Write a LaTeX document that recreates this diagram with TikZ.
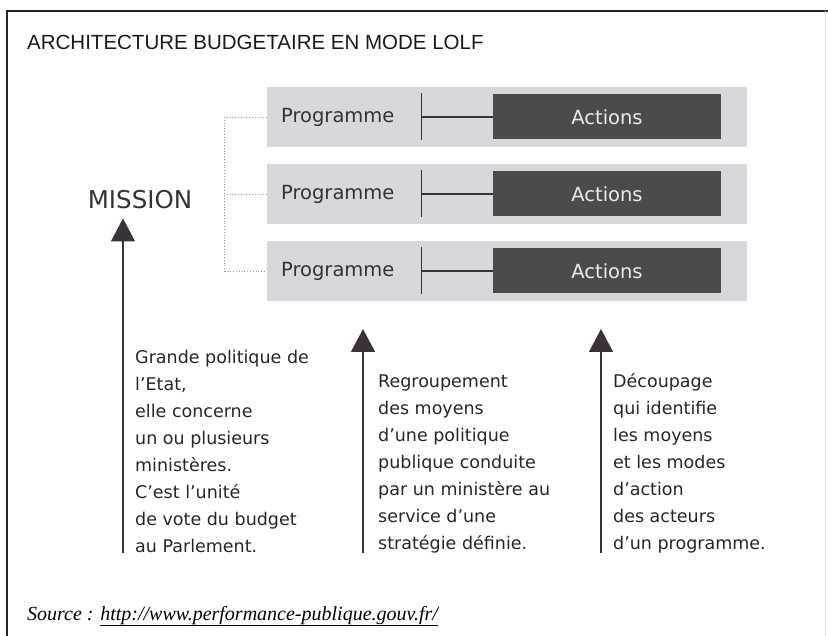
\documentclass[tikz,border=0pt]{standalone}
\usepackage{fontspec}
\setmainfont{Liberation Serif}
\setsansfont{DejaVu Sans}
\newfontfamily\arialfont{Liberation Sans}
\usetikzlibrary{positioning, calc, arrows.meta}

\definecolor{bandgray}{HTML}{D8D8DC}
\definecolor{actgray}{HTML}{4B4B4B}
\definecolor{inkdark}{HTML}{3A3238}

\tikzset{
  band/.style={fill=bandgray, minimum width=480pt, minimum height=60pt, inner sep=0pt},
  actbox/.style={fill=actgray, text=white!92!black, minimum width=228pt, minimum height=45pt,
    inner sep=0pt, font=\sffamily\fontsize{19.5}{22}\selectfont},
  progtxt/.style={text=black!80, inner sep=0pt, font=\sffamily\fontsize{19.5}{22}\selectfont},
  expl/.style={align=left, inner sep=0pt, anchor=south west, text=black!85,
    font=\sffamily\fontsize{17.5}{27}\selectfont},
  uparrow/.style={draw=inkdark, fill=actgray, line width=1.3pt, -{Triangle[width=24pt,length=23pt]}},
  bracket/.style={draw=black!40, dotted, line width=0.8pt},
  tick/.style={draw=inkdark, line width=1.2pt}
}

\begin{document}
\begin{tikzpicture}[x=1pt, y=-1pt, node distance=77pt, on grid]
\useasboundingbox (0,0) rectangle (828,636);
% cadre
\draw[line width=2pt, black!85] (7,636) -- (7,11) -- (828,11);
\draw[black!12] (825,11) -- (825,636);

\node[anchor=base west, inner sep=0pt, text=black!90, font=\arialfont\fontsize{20.5}{24}\selectfont]
  (title) at (27,50) {ARCHITECTURE BUDGETAIRE EN MODE LOLF};

% programmes et actions
\node[band] (band1) at (507,117) {};
\node[band] (band2) [below=of band1] {};
\node[band] (band3) [below=of band2] {};

\foreach \i in {1,2,3} {
  \node[progtxt, anchor=base] (prog\i) at ($(band\i.west)+(71,6)$) {Programme};
  \node[actbox] (act\i) at ($(band\i.center)+(100,0)$) {Actions};
  \coordinate (tick\i) at ($(band\i.west)+(155,0)$);
  \draw[tick] ($(tick\i)+(0,-23.5)$) -- ($(tick\i)+(0,23.5)$);
  \draw[tick] (tick\i) -- (act\i.west);
}

\coordinate (brtop) at ($(band1.west)+(-42,0)$);
\coordinate (brbot) at ($(band3.west)+(-42,0)$);
\draw[bracket] (band1.west) -- (brtop) -- (brbot) -- (band3.west);
\draw[bracket] (band2.west) -- (brtop |- band2.west);

\node[text=black!80, inner xsep=0pt, inner ysep=9pt, font=\sffamily\fontsize{24.5}{28}\selectfont]
  (mission) at (140,200) {MISSION};

% explications
\node[expl] (txtmission) at (135,553) {Grande politique de\\l'Etat,\\elle concerne\\un ou plusieurs\\ministères.\\C'est l'unité\\de vote du budget\\au Parlement.};
\node[expl] (txtprog) at (378,553) {Regroupement\\des moyens\\d'une politique\\publique conduite\\par un ministère au\\service d'une\\stratégie définie.};
\node[expl] (txtact) at (613,553) {Découpage\\qui identifie\\les moyens\\et les modes\\d'action\\des acteurs\\d'un programme.};

\coordinate (foot1) at (123,553);
\coordinate (foot2) at (363,553);
\coordinate (foot3) at (601,553);
\coordinate (head2) at (363,329);
\coordinate (head3) at (601,329);
\draw[uparrow] (foot1) -- (foot1 |- mission.south);
\draw[uparrow] (foot2) -- (head2);
\draw[uparrow] (foot3) -- (head3);

\node[anchor=base west, inner sep=0pt, font=\itshape\fontsize{20}{24}\selectfont]
  (source) at (27,620) {Source : \underline{http://www.performance-publique.gouv.fr/}};
\end{tikzpicture}
\end{document}
